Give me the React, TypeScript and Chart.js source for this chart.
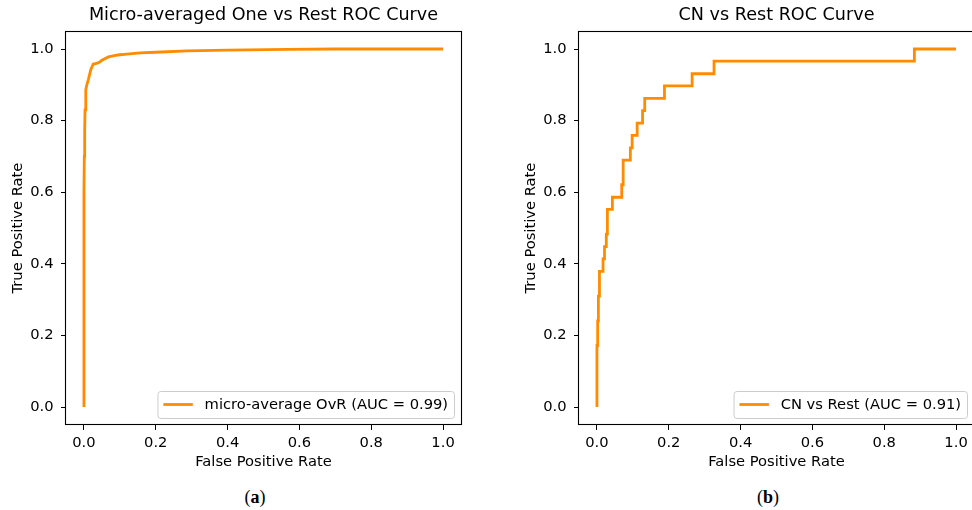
import React, { useEffect, useRef } from "react";
import { Chart, registerables } from "chart.js";

Chart.register(...registerables);

// ---- data ----
const microFpr = [0, 0.0, 0.001, 0.002, 0.003, 0.0045, 0.0056, 0.008, 0.012, 0.016, 0.019, 0.023, 0.026, 0.035, 0.043, 0.049, 0.058, 0.068, 0.078, 0.087, 0.1, 0.119, 0.156, 0.2, 0.287, 0.4, 0.566, 0.7, 1.0];
const microTpr = [0, 0.6, 0.7, 0.774, 0.83, 0.865, 0.886, 0.9, 0.914, 0.93, 0.942, 0.952, 0.958, 0.96, 0.963, 0.968, 0.973, 0.978, 0.98, 0.982, 0.984, 0.986, 0.989, 0.991, 0.995, 0.997, 0.999, 1.0, 1.0];

const cnFpr = [0, 0, 0.002, 0.002, 0.004, 0.004, 0.007, 0.007, 0.017, 0.017, 0.021, 0.021, 0.026, 0.026, 0.029, 0.029, 0.043, 0.043, 0.069, 0.069, 0.073, 0.073, 0.093, 0.093, 0.098, 0.098, 0.112, 0.112, 0.127, 0.127, 0.133, 0.133, 0.188, 0.188, 0.265, 0.265, 0.326, 0.326, 0.884, 0.884, 1.0];
const cnTpr = [0, 0.172, 0.172, 0.241, 0.241, 0.31, 0.31, 0.379, 0.379, 0.414, 0.414, 0.448, 0.448, 0.483, 0.483, 0.552, 0.552, 0.586, 0.586, 0.621, 0.621, 0.69, 0.69, 0.724, 0.724, 0.759, 0.759, 0.793, 0.793, 0.828, 0.828, 0.862, 0.862, 0.897, 0.897, 0.931, 0.931, 0.966, 0.966, 1.0, 1.0];

const tickValues = [0, 0.2, 0.4, 0.6, 0.8, 1.0];
const titles = ["Micro-averaged One vs Rest ROC Curve", "CN vs Rest ROC Curve"];
const legendLabels = ["micro-average OvR (AUC = 0.99)", "CN vs Rest (AUC = 0.91)"];
const xLabel = "False Positive Rate";
const yLabel = "True Positive Rate";
const captions = ["a", "b"];

const FONT = "'DejaVu Sans', sans-serif";
const ORANGE = "#ff8c00";
const TEXT = "#000000";
const FS = 14.7;

function legendPlugin(label: string) {
  return {
    id: "innerLegend",
    afterDraw(chart: any) {
      const { ctx, chartArea } = chart;
      ctx.save();
      ctx.font = `${FS}px ${FONT}`;
      const tw = ctx.measureText(label).width;
      const pad = 5.9, handle = 29.4, tpad = 11.8, h = 27;
      const w = pad + handle + tpad + tw + pad;
      const right = Math.round(chartArea.right - 7);
      const bottom = Math.round(chartArea.bottom - 7);
      const left = right - w;
      const top = bottom - h;
      ctx.beginPath();
      ctx.roundRect(left + 0.5, top + 0.5, w, h, 3);
      ctx.fillStyle = "rgba(255,255,255,0.8)";
      ctx.fill();
      ctx.strokeStyle = "#cccccc";
      ctx.lineWidth = 1;
      ctx.stroke();
      const cy = top + h / 2;
      ctx.beginPath();
      ctx.moveTo(left + pad, cy);
      ctx.lineTo(left + pad + handle, cy);
      ctx.strokeStyle = ORANGE;
      ctx.lineWidth = 2.8;
      ctx.stroke();
      ctx.fillStyle = TEXT;
      ctx.textBaseline = "middle";
      ctx.textAlign = "left";
      ctx.fillText(label, left + pad + handle + tpad, cy + 1);
      ctx.restore();
    },
  };
}

const framePlugin = {
  id: "frame",
  afterDraw(chart: any) {
    const { ctx, chartArea } = chart;
    ctx.save();
    ctx.strokeStyle = "#000";
    ctx.lineWidth = 1.1;
    ctx.strokeRect(
      Math.round(chartArea.left) - 0.5,
      Math.round(chartArea.top) + 0.5,
      Math.round(chartArea.right - chartArea.left) + 1,
      Math.round(chartArea.bottom - chartArea.top) - 1
    );
    ctx.restore();
  },
};

function RocChart(props: { fpr: number[]; tpr: number[]; title: string; legend: string; left: number }) {
  const ref = useRef<HTMLCanvasElement>(null);
  useEffect(() => {
    if (!ref.current) return;
    const points = props.fpr.map((x, i) => ({ x, y: props.tpr[i] }));
    const tickFont = { family: FONT, size: FS };
    const chart = new Chart(ref.current, {
      type: "line",
      data: {
        datasets: [
          {
            label: props.legend,
            data: points,
            borderColor: ORANGE,
            borderWidth: 2.8,
            pointRadius: 0,
            tension: 0,
            fill: false,
          },
        ],
      },
      options: {
        animation: false,
        responsive: false,
        devicePixelRatio: 1,
        layout: { padding: { left: 0, top: 0, bottom: 0, right: 25 } },
        plugins: {
          legend: { display: false },
          tooltip: { enabled: false },
          title: {
            display: true,
            text: props.title,
            fullSize: false,
            color: TEXT,
            font: { family: FONT, size: 17.6, weight: "normal" },
            padding: { top: 5, bottom: 5 },
          },
        },
        scales: {
          x: {
            type: "linear",
            min: -0.05,
            max: 1.05,
            afterBuildTicks: (s: any) => {
              s.ticks = tickValues.map((v) => ({ value: v }));
            },
            afterFit: (s: any) => {
              s.height = 50;
            },
            ticks: {
              color: TEXT,
              font: tickFont,
              padding: 4,
              maxRotation: 0,
              autoSkip: false,
              callback: (v: any) => Number(v).toFixed(1),
            },
            grid: { drawOnChartArea: false, drawTicks: true, tickLength: 5, color: "#000", lineWidth: 1 },
            border: { display: false },
            title: {
              display: true,
              text: xLabel,
              color: TEXT,
              font: tickFont,
              padding: { top: 0, bottom: 4.2 },
            },
          },
          y: {
            type: "linear",
            min: -0.05,
            max: 1.05,
            afterBuildTicks: (s: any) => {
              s.ticks = tickValues.map((v) => ({ value: v }));
            },
            afterFit: (s: any) => {
              s.width = 66;
            },
            ticks: {
              color: TEXT,
              font: tickFont,
              padding: 7.5,
              autoSkip: false,
              callback: (v: any) => Number(v).toFixed(1),
            },
            grid: { drawOnChartArea: false, drawTicks: true, tickLength: 5, color: "#000", lineWidth: 1 },
            border: { display: false },
            title: {
              display: true,
              text: yLabel,
              color: TEXT,
              font: tickFont,
              padding: { top: 9.2, bottom: 0 },
            },
          },
        },
      },
      plugins: [framePlugin, legendPlugin(props.legend)],
    } as any);
    return () => chart.destroy();
  }, []);
  return (
    <canvas
      ref={ref}
      width={486}
      height={475}
      style={{ position: "absolute", left: props.left, top: 0, width: 486, height: 475, display: "block" }}
    />
  );
}

export default function App() {
  const capStyle = (cx: number): React.CSSProperties => ({
    position: "absolute",
    left: cx - 40,
    width: 80,
    top: 486,
    textAlign: "center",
    fontFamily: "'Liberation Serif', 'DejaVu Serif', serif",
    fontSize: 18,
    lineHeight: "22px",
    color: "#000",
  });
  return (
    <div
      style={{
        position: "fixed",
        left: 0,
        top: 0,
        width: 972,
        height: 510,
        overflow: "hidden",
        background: "#fff",
      }}
    >
      <RocChart fpr={microFpr} tpr={microTpr} title={titles[0]} legend={legendLabels[0]} left={0} />
      <RocChart fpr={cnFpr} tpr={cnTpr} title={titles[1]} legend={legendLabels[1]} left={513} />
      <div style={capStyle(255)}>
        (<b>{captions[0]}</b>)
      </div>
      <div style={capStyle(768)}>
        (<b>{captions[1]}</b>)
      </div>
    </div>
  );
}
